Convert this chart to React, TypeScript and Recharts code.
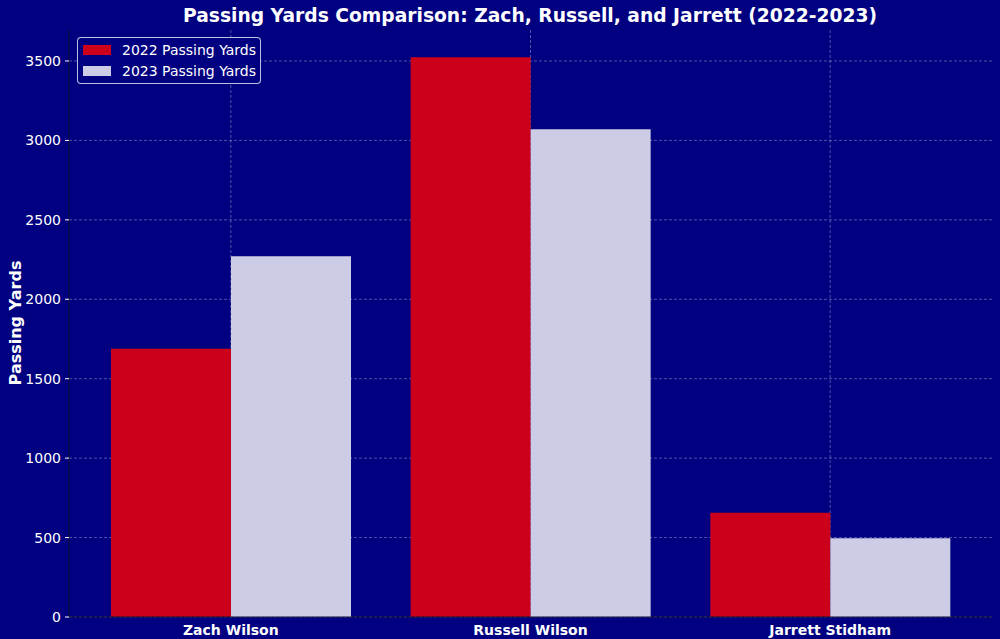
import React from 'react'
import { BarChart, Bar, XAxis, YAxis, CartesianGrid } from 'recharts'

const players = ['Zach Wilson', 'Russell Wilson', 'Jarrett Stidham']
const yards2022 = [1688, 3524, 656]
const yards2023 = [2271, 3070, 496]
const yTicks = [0, 500, 1000, 1500, 2000, 2500, 3000, 3500]

const RED = '#CC001A'
const LIGHT = '#CCCCE6'
const NAVY = '#000080'
const FONT = '"DejaVu Sans", sans-serif'

const chartData = players.map((name, i) => ({
  name,
  y2022: yards2022[i],
  y2023: yards2023[i],
}))

// legend box like matplotlib's, top-left inside the axes
function LegendBox() {
  const items = [
    { label: '2022 Passing Yards', color: RED },
    { label: '2023 Passing Yards', color: LIGHT },
  ]
  return (
    <div
      style={{
        position: 'absolute',
        left: 77,
        top: 37,
        border: '1px solid rgba(255,255,255,0.75)',
        borderRadius: 4,
        background: NAVY,
        padding: '2px 4px 2px 5px',
        fontFamily: FONT,
        fontSize: 14,
        color: '#fff',
        zIndex: 2,
      }}
    >
      {items.map((it) => (
        <div key={it.label} style={{ display: 'flex', alignItems: 'center', height: 20.5 }}>
          <span style={{ display: 'inline-block', width: 28, height: 10, background: it.color, marginRight: 11 }} />
          <span>{it.label}</span>
        </div>
      ))}
    </div>
  )
}

export default function App() {
  return (
    <div style={{ position: 'absolute', left: 0, top: 0, width: 1000, height: 639, background: NAVY }}>
      <div
        style={{
          position: 'absolute',
          left: 60,
          width: 940,
          top: 5,
          textAlign: 'center',
          fontFamily: FONT,
          fontWeight: 'bold',
          fontSize: 18.7,
          color: '#fff',
        }}
      >
        Passing Yards Comparison: Zach, Russell, and Jarrett (2022-2023)
      </div>
      <div
        style={{
          position: 'absolute',
          left: 15,
          top: 323,
          transform: 'translate(-50%, -50%) rotate(-90deg)',
          whiteSpace: 'nowrap',
          fontFamily: FONT,
          fontWeight: 'bold',
          fontSize: 16,
          color: '#fff',
        }}
      >
        Passing Yards
      </div>
      <BarChart
        width={1000}
        height={639}
        data={chartData}
        margin={{ top: 30, right: 8, left: 0, bottom: 0 }}
        barGap={0}
        style={{ position: 'absolute', left: 0, top: 0 }}
      >
        <CartesianGrid stroke="#ffffff" strokeOpacity={0.32} strokeDasharray="3 2" syncWithTicks />
        <XAxis
          dataKey="name"
          height={22}
          padding={{ left: 12, right: 12 }}
          axisLine={{ stroke: '#111133' }}
          tickLine={false}
          tick={{ fill: '#fff', fontSize: 14, fontWeight: 'bold', fontFamily: FONT }}
          tickMargin={2}
        />
        <YAxis
          width={69}
          domain={[0, 3695]}
          ticks={yTicks}
          allowDataOverflow
          axisLine={{ stroke: '#111133' }}
          tickLine={{ stroke: '#ffffff' }}
          tickSize={4}
          tickMargin={4}
          tick={{ fill: '#fff', fontSize: 14, fontFamily: FONT }}
        />
        <Bar dataKey="y2022" name="2022 Passing Yards" fill={RED} barSize={120} isAnimationActive={false} />
        <Bar dataKey="y2023" name="2023 Passing Yards" fill={LIGHT} barSize={120} isAnimationActive={false} />
      </BarChart>
      <LegendBox />
    </div>
  )
}
